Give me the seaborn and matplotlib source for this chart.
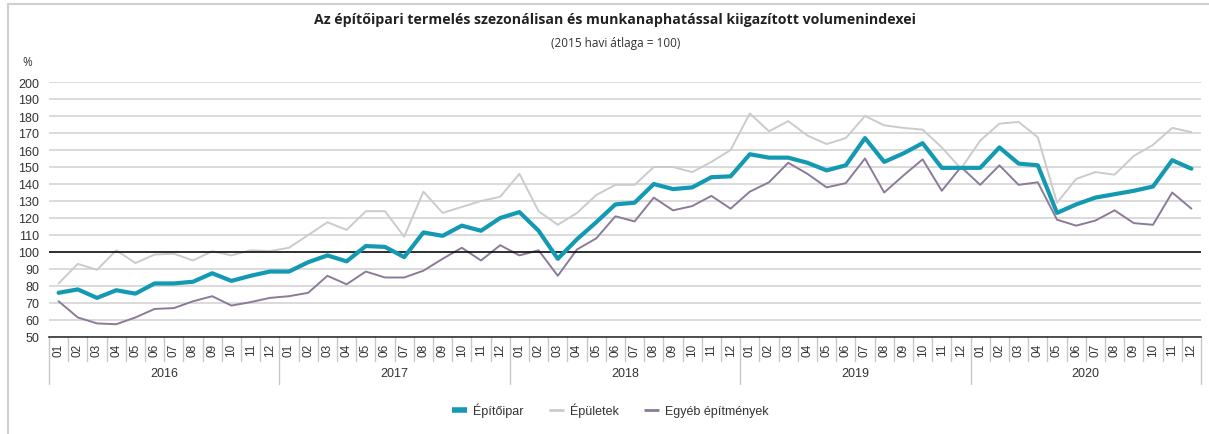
import numpy as np
import pandas as pd
import seaborn as sns
import matplotlib.pyplot as plt
from matplotlib.lines import Line2D

## Data (2016-01 .. 2020-12)
years = ["2016", "2017", "2018", "2019", "2020"]
months = ["01", "02", "03", "04", "05", "06", "07", "08", "09", "10", "11", "12"]

epitoipar = [76, 78, 73, 77.5, 75.5, 81.5, 81.5, 82.5, 87.5, 83, 86, 88.5,
             88.5, 94, 98, 94.5, 103.5, 103, 97, 111.5, 109.5, 115.5, 112.5, 120,
             123.5, 112.5, 96, 107.5, 117.5, 128, 129, 140, 137, 138, 144, 144.5,
             157.5, 155.5, 155.5, 152.5, 148, 151, 167, 153, 158, 164, 149.5, 149.5,
             149.5, 161.5, 152, 151, 123, 128, 132, 134, 136, 138.5, 154, 149]
epuletek = [81.5, 93, 89.5, 101, 93.5, 98.5, 99, 95, 100.5, 98, 101, 100.5,
            102.5, 110, 117.5, 113, 124, 124, 109, 135.5, 123, 126.5, 130, 132.5,
            146, 124, 116, 123, 133.5, 139.5, 139.5, 150, 150, 147, 153, 160,
            181.5, 171, 177, 168.5, 163.5, 167, 180, 174.5, 173, 172, 161.5, 149,
            165.5, 175.5, 176.5, 167.5, 129, 143, 147, 145.5, 156.5, 163, 173, 170.5]
egyeb = [71, 61.5, 58, 57.5, 61.5, 66.5, 67, 71, 74, 68.5, 70.5, 73,
         74, 76, 86, 81, 88.5, 85, 85, 89, 96, 102.5, 95, 104,
         98, 101, 86, 101.5, 108, 121, 118, 132, 124.5, 127, 133, 125.5,
         135.5, 141, 152.5, 146, 138, 140.5, 155, 135, 145, 154.5, 136, 150,
         139.5, 151, 139.5, 141, 119, 115.5, 118.5, 124.5, 117, 116, 135, 125.5]

names = ["Építőipar", "Épületek", "Egyéb építmények"]
colors = ["#1499b3", "#cbcbcb", "#8c7b98"]
widths = [3.0, 1.4, 1.4]

n = len(epitoipar)
df = pd.DataFrame({"idx": np.arange(n), names[0]: epitoipar,
                   names[1]: epuletek, names[2]: egyeb})

sns.set_theme(style="white")
plt.rcParams["font.family"] = ["Liberation Sans", "DejaVu Sans"]

fig = plt.figure(figsize=(12.09, 4.35), dpi=100)
ax = fig.add_axes([49 / 1209, 1 - 338 / 435, 1152 / 1209, 255 / 435])

for name, col, lw in zip([names[1], names[2], names[0]],
                         [colors[1], colors[2], colors[0]],
                         [widths[1], widths[2], widths[0]]):
    sns.lineplot(data=df, x="idx", y=name, color=col, linewidth=lw, ax=ax,
                 zorder=3 if name == names[0] else 2)

ax.set_xlim(-0.5, n - 0.5)
ax.set_ylim(50, 200)
ax.set_yticks(np.arange(50, 201, 10))
ax.grid(axis="y", color="#d4d4d4", linewidth=1.2)
ax.axhline(100, color="black", linewidth=1.1, zorder=2.5)
for s in ["top", "right", "left"]:
    ax.spines[s].set_visible(False)
ax.spines["bottom"].set_color("#333333")
ax.spines["bottom"].set_linewidth(1.2)
ax.set_xlabel("")
ax.set_ylabel("")
ax.set_xticks([])
ax.tick_params(axis="y", length=0, pad=7, labelsize=9, labelcolor="#333333")

## month / year labels under the axis
trans = ax.get_xaxis_transform()
for i in range(n):
    ax.text(i, -0.047, months[i % 12], transform=trans, rotation=90,
            ha="center", va="center", fontsize=8.5, color="#333333")
for i in range(n + 1):
    low = -0.184 if i % 12 == 0 else -0.094
    ax.plot([i - 0.5, i - 0.5], [0, low], transform=trans, color="#c8c8c8",
            linewidth=1, clip_on=False)
for k, yr in enumerate(years):
    ax.text(12 * k + 5.5, -0.141, yr, transform=trans, ha="center",
            va="center", fontsize=9, color="#333333")

## titles
fig.text(0.509, 1 - 20 / 435, "Az építőipari termelés szezonálisan és munkanaphatással kiigazított volumenindexei",
         ha="center", va="center", fontsize=10.2, fontweight="bold",
         family=["Open Sans", "DejaVu Sans"], color="#222222")
fig.text(0.509, 1 - 44 / 435, "(2015 havi átlaga = 100)", ha="center",
         va="center", fontsize=8.5, family=["Open Sans", "DejaVu Sans"],
         color="#333333")
fig.text(22 / 1209, 1 - 62 / 435, "%", ha="left", va="center", fontsize=8.5,
         family=["Open Sans", "DejaVu Sans"], color="#333333")

## frame of the container
fig.add_artist(Line2D([8 / 1209, 1], [1 - 5 / 435, 1 - 5 / 435],
                      transform=fig.transFigure, color="#cfcfcf", linewidth=1.5))
fig.add_artist(Line2D([8 / 1209, 8 / 1209], [0, 1 - 5 / 435],
                      transform=fig.transFigure, color="#cfcfcf", linewidth=1.5))

handles = [Line2D([], [], color=c, linewidth=w, solid_capstyle="butt")
           for c, w in zip(colors, [4, 2, 2])]
fig.legend(handles, names, loc="center", bbox_to_anchor=(0.505, 1 - 411 / 435),
           ncol=3, frameon=False, fontsize=9, handlelength=1.2,
           columnspacing=2.0, handletextpad=0.5, labelcolor="#333333")

fig.savefig("out.png", dpi=100)
